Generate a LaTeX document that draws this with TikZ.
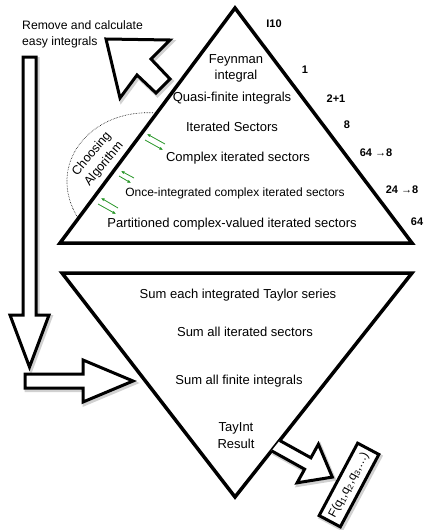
\documentclass[tikz,border=0pt]{standalone}
\usepackage{fontspec}
\setmainfont{Liberation Sans}
\usetikzlibrary{arrows.meta,calc}
\definecolor{arrgreen}{RGB}{40,150,40}
\begin{document}
\begin{tikzpicture}[x=1pt,y=-1pt,
  tri/.style={line width=3.5pt, line join=miter, miter limit=10},
  hollow/.style={line width=3pt, line join=miter, miter limit=10, fill=white},
  shade/.style={line width=4pt, draw=black!30, opacity=0.6, shift={(1.5,2)}},
  lbl/.style={font=\fontsize{13}{16}\selectfont, align=center, inner sep=0pt},
  num/.style={font=\fontsize{11}{13}\selectfont\bfseries, inner sep=0pt},
  garrow/.style={draw=arrgreen, line width=0.8pt, -{Latex[length=3.5pt,width=3.2pt]}},
]
\useasboundingbox (0,0) rectangle (425,530);

% shadows of hollow arrows
\draw[shade] (106,39) -- (170,40) -- (151,59) -- (170,79) -- (156,93) -- (137,75) -- (120,98) -- cycle;
\draw[shade] (23,57) -- (36,57) -- (36,315) -- (49,315) -- (29.5,367) -- (10,315) -- (23,315) -- cycle;
\draw[shade] (25,374) -- (83,374) -- (83,360) -- (133,381) -- (83,402) -- (83,388) -- (25,388) -- cycle;

% hollow arrows
\draw[hollow] (106,39) -- (170,40) -- (151,59) -- (170,79) -- (156,93) -- (137,75) -- (120,98) -- cycle;
\draw[hollow] (23,57) -- (36,57) -- (36,315) -- (49,315) -- (29.5,367) -- (10,315) -- (23,315) -- cycle;
\draw[hollow] (25,374) -- (83,374) -- (83,360) -- (133,381) -- (83,402) -- (83,388) -- (25,388) -- cycle;

% triangles
\draw[tri] (235,8) -- (412,243) -- (60,243) -- cycle;
\draw[tri] (62,273) -- (412,273) -- (235,497) -- cycle;

% TayInt arrow
\draw[shade] (279.7,440.5) -- (310.9,457.8) -- (318.4,444.2) -- (332.3,477.1) -- (297.1,482.8) -- (304.6,469.2) -- (271.5,450.8);
\draw[hollow] (279.7,440.5) -- (310.9,457.8) -- (318.4,444.2) -- (332.3,477.1) -- (297.1,482.8) -- (304.6,469.2) -- (271.5,450.8);

% result box
\node[draw=black!30, opacity=0.6, line width=4pt, minimum width=82pt, minimum height=24pt, rotate=62] at (350.5,487) {};
\node[draw, fill=white, line width=3pt, minimum width=82pt, minimum height=24pt, rotate=62, inner sep=0pt,
      font=\fontsize{12}{14}\selectfont] (res) at (349,485)
      {F(q\textsubscript{1},q\textsubscript{2},q\textsubscript{3},\ldots)};

% text
\node[anchor=west, align=left, inner sep=0pt, font=\fontsize{12.2}{16}\selectfont] (remove) at (22,34)
  {Remove and calculate\\easy integrals};

\node[lbl] (feyn) at (236,68) {Feynman\\integral};
\node[lbl] (quasi) at (232,98) {Quasi-finite integrals};
\node[lbl] (iter) at (232,127) {Iterated Sectors};
\node[lbl] (cplx) at (238,158) {Complex iterated sectors};
\node[lbl, font=\fontsize{12}{14}\selectfont] (once) at (235,193) {Once-integrated complex iterated sectors};
\node[lbl] (part) at (232,224) {Partitioned complex-valued iterated sectors};

\node[num] (n1) at (274,24) {I10};
\node[num] (n2) at (305,70) {1};
\node[num] (n3) at (336,99) {2+1};
\node[num] (n4) at (347,125) {8};
\node[num] (n5) at (376,153) {64 →8};
\node[num] (n6) at (402,190) {24 →8};
\node[num] (n7) at (417,222) {64};

\node[lbl, rotate=50, font=\fontsize{12.5}{16}\selectfont] (choose) at (98,159) {Choosing\\Algorithm};
\draw[densely dotted, line width=0.6pt] (156,113) .. controls (90,108) and (45,165) .. (78,218);

\node[lbl] (s1) at (238,295) {Sum each integrated Taylor series};
\node[lbl] (s2) at (245,332) {Sum all iterated sectors};
\node[lbl] (s3) at (239,381) {Sum all finite integrals};
\node[lbl, font=\fontsize{13}{17}\selectfont] (tay) at (236,436) {TayInt\\Result};

% green arrows
\draw[garrow] (165,144) -- (147,134);
\draw[garrow] (145,140) -- (163,150);
\draw[garrow] (134,178) -- (121,171);
\draw[garrow] (119,176) -- (131,183);
\draw[garrow] (118,208) -- (101,198);
\draw[garrow] (98,204) -- (116,214);
\end{tikzpicture}
\end{document}
